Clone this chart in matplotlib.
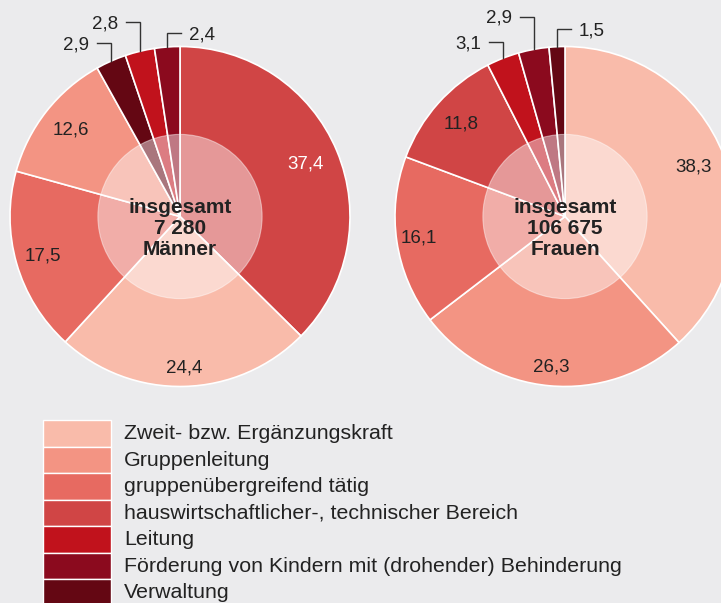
import matplotlib
matplotlib.use("Agg")
import matplotlib.pyplot as plt
from matplotlib.patches import Circle, Rectangle
import numpy as np

plt.rcParams['font.family'] = ['Liberation Sans', 'DejaVu Sans']

categories = ['Zweit- bzw. Ergänzungskraft', 'Gruppenleitung', 'gruppenübergreifend tätig',
              'hauswirtschaftlicher-, technischer Bereich', 'Leitung',
              'Förderung von Kindern mit (drohender) Behinderung', 'Verwaltung']
colors = ['#f9bbaa', '#f39483', '#e76a61', '#d04545', '#c1121c', '#8b0a1e', '#640713']

# Männer (Reihenfolge im Uhrzeigersinn ab 12 Uhr)
men_cats = ['hauswirtschaftlicher-, technischer Bereich', 'Zweit- bzw. Ergänzungskraft',
            'gruppenübergreifend tätig', 'Gruppenleitung', 'Verwaltung', 'Leitung',
            'Förderung von Kindern mit (drohender) Behinderung']
men_vals = [37.4, 24.4, 17.5, 12.6, 2.9, 2.8, 2.4]
men_total = '7 280'

# Frauen
women_cats = ['Zweit- bzw. Ergänzungskraft', 'Gruppenleitung', 'gruppenübergreifend tätig',
              'hauswirtschaftlicher-, technischer Bereich', 'Leitung',
              'Förderung von Kindern mit (drohender) Behinderung', 'Verwaltung']
women_vals = [38.3, 26.3, 16.1, 11.8, 3.1, 2.9, 1.5]
women_total = '106 675'

bg = '#ebebed'
W, H = 721, 603
R = 170.0
fig = plt.figure(figsize=(W / 100, H / 100), dpi=100, facecolor=bg)


def fmt(v):
    return f'{v:.1f}'.replace('.', ',')


def draw_pie(cx, cy, cats, vals, total, who, in_r, in_col, out_y, out_side):
    ax = fig.add_axes([(cx - R) / W, (H - cy - R) / H, 2 * R / W, 2 * R / H])
    cols = [colors[categories.index(c)] for c in cats]
    wedges, _ = ax.pie(vals, colors=cols, startangle=90, counterclock=False, radius=1,
                       wedgeprops=dict(edgecolor='white', linewidth=1.2))
    ax.set_xlim(-1, 1)
    ax.set_ylim(-1, 1)
    ax.axis('off')
    for w in wedges:
        w.set_clip_on(False)
    ax.add_patch(Circle((0, 0), 0.483, facecolor='white', alpha=0.45,
                        edgecolor='white', linewidth=0.8, clip_on=False))
    ax.text(0, -0.07, f'insgesamt\n{total}\n{who}', ha='center', va='center',
            fontsize=15, fontweight='bold', color='#222222', linespacing=1.12)
    cum = np.cumsum([0] + vals)
    k = 0
    for i, v in enumerate(vals):
        mid = (cum[i] + v / 2) / 100 * 2 * np.pi
        sx, sy = np.sin(mid), np.cos(mid)
        if i < len(in_r):
            ax.text(in_r[i] * sx, in_r[i] * sy, fmt(v), ha='center', va='center',
                    fontsize=13.5, color=in_col[i])
        else:
            ly = out_y[k]
            d = out_side[k]
            ax.plot([sx, sx, sx + d * 0.082], [sy, ly, ly], color='#333333',
                    linewidth=1.0, clip_on=False, solid_joinstyle='miter')
            ax.text(sx + d * 0.13, ly - 0.01, fmt(v), ha='left' if d > 0 else 'right',
                    va='center', fontsize=13.5, color='#222222', clip_on=False)
            k += 1
    return ax


draw_pie(180, 216.5, men_cats, men_vals, men_total, 'Männer',
         [0.80, 0.89, 0.84, 0.82], ['white', '#222222', '#222222', '#222222'],
         [1.02, 1.145, 1.08], [-1, -1, 1])
draw_pie(565, 216.5, women_cats, women_vals, women_total, 'Frauen',
         [0.81, 0.89, 0.87, 0.82], ['#222222'] * 4,
         [1.025, 1.175, 1.10], [-1, -1, 1])

# Legende
lax = fig.add_axes([0, 0, 1, 1])
lax.set_xlim(0, W)
lax.set_ylim(H, 0)
lax.axis('off')
lax.patch.set_alpha(0)
row_h = 26.5
for i, (c, col) in enumerate(zip(categories, colors)):
    y0 = 420 + i * row_h
    lax.add_patch(Rectangle((43, y0), 68, row_h, facecolor=col, edgecolor='white', linewidth=1.0))
    lax.text(124, y0 + row_h / 2 + 0.5, c, ha='left', va='center', fontsize=15.4, color='#222222')

fig.savefig('out.png', dpi=100, facecolor=bg)
